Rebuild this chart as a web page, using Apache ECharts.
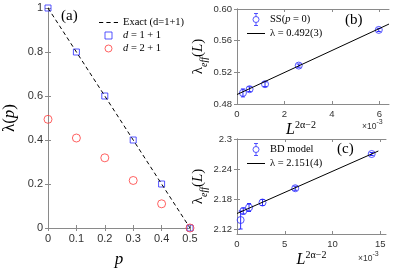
<!DOCTYPE html>
<html><head><meta charset="utf-8">
<script src="https://cdn.jsdelivr.net/npm/echarts@6/dist/echarts.min.js"></script>
<style>html,body{margin:0;padding:0;background:#fff}#c{width:399px;height:273px}</style>
</head><body><div id="c"></div>
<script>
// Panel (a)
const pA = [0, 0.1, 0.2, 0.3, 0.4, 0.5];
const lam1d = [1, 0.8, 0.6, 0.4, 0.2, 0];
const lam2d = [0.494, 0.409, 0.319, 0.216, 0.11, 0];
const exactLine = [[0, 1], [0.5, 0]];
const ticksAx = [0, 0.1, 0.2, 0.3, 0.4, 0.5];
const ticksAy = [0, 0.2, 0.4, 0.6, 0.8, 1];
// Panel (b)
const xB = [0.25, 0.53, 1.18, 2.6, 5.97];
const yB = [0.494, 0.4987, 0.505, 0.5285, 0.5736];
const eB = [0.005, 0.003, 0.003, 0.002, 0.002];
const fitB = [[0, 0.492], [6.4, 0.581]];
const ticksBx = [0, 2, 4, 6];
const ticksBy = [0.48, 0.52, 0.56, 0.60];
// Panel (c)
const xC = [0.38, 0.66, 1.26, 2.67, 6.1, 14.1];
const yC = [2.138, 2.156, 2.163, 2.173, 2.2015, 2.27];
const eC = [0.018, 0.006, 0.008, 0.006, 0.004, 0.003];
const fitC = [[0, 2.151], [14.8, 2.276]];
const ticksCx = [0, 5, 10, 15];
const ticksCy = [2.12, 2.18, 2.24, 2.3];

const BLUE = '#2b2bff', RED = '#ff3b3b', AX = '#8a8a8a', LBL = '#333';
const serif = 'Liberation Serif';
const sans = 'Liberation Sans';

function zip(xs, ys) { return xs.map((x, i) => [x, ys[i]]); }
function zip3(xs, ys, es) { return xs.map((x, i) => [x, ys[i], es[i]]); }

function mkX(grid, min, max, ticks, fs, name, nameGap, nameRich, fmt, namePad) {
  return [{
    type: 'value', gridIndex: grid, min: min, max: max, position: 'bottom',
    axisLine: { show: true, lineStyle: { color: AX, width: 1 } },
    axisTick: { show: true, inside: true, length: 3, customValues: ticks, lineStyle: { color: AX } },
    axisLabel: { customValues: ticks, fontSize: fs, color: LBL, fontFamily: sans, margin: 5, formatter: fmt },
    splitLine: { show: false },
    name: name, nameLocation: 'middle', nameGap: nameGap,
    nameTextStyle: { rich: nameRich, fontFamily: serif, padding: namePad || 0 }
  }, {
    type: 'value', gridIndex: grid, min: min, max: max, position: 'top',
    axisLine: { show: true, lineStyle: { color: AX, width: 1 } },
    axisTick: { show: true, inside: true, length: 3, customValues: ticks, lineStyle: { color: AX } },
    axisLabel: { show: false }, splitLine: { show: false }
  }];
}
function mkY(grid, min, max, ticks, fs, name, nameGap, nameRich, fmt) {
  return [{
    type: 'value', gridIndex: grid, min: min, max: max, position: 'left',
    axisLine: { show: true, lineStyle: { color: AX, width: 1 } },
    axisTick: { show: true, inside: true, length: 3, customValues: ticks, lineStyle: { color: AX } },
    axisLabel: { customValues: ticks, fontSize: fs, color: LBL, fontFamily: sans, margin: 5, formatter: fmt },
    splitLine: { show: false },
    name: name, nameLocation: 'middle', nameGap: nameGap, nameRotate: 90,
    nameTextStyle: { rich: nameRich, fontFamily: serif }
  }, {
    type: 'value', gridIndex: grid, min: min, max: max, position: 'right',
    axisLine: { show: true, lineStyle: { color: AX, width: 1 } },
    axisTick: { show: true, inside: true, length: 3, customValues: ticks, lineStyle: { color: AX } },
    axisLabel: { show: false }, splitLine: { show: false }
  }];
}

const richA = { n: { fontSize: 17, fontFamily: serif, color: '#000' }, i: { fontSize: 17, fontFamily: serif, fontStyle: 'italic', color: '#000' } };
const richL = {
  n: { fontSize: 16, fontFamily: serif, fontStyle: 'italic', color: '#000', lineHeight: 20 },
  s: { fontSize: 10, fontFamily: serif, color: '#000', verticalAlign: 'top', lineHeight: 8 }
};
const richE = {
  n: { fontSize: 15, fontFamily: serif, color: '#000', lineHeight: 23 },
  i: { fontSize: 15, fontFamily: serif, fontStyle: 'italic', color: '#000', lineHeight: 23 },
  s: { fontSize: 10, fontFamily: serif, fontStyle: 'italic', color: '#000', verticalAlign: 'bottom', lineHeight: 8 }
};

function errRender(params, api) {
  const x = api.value(0), y = api.value(1), e = api.value(2);
  const top = api.coord([x, y + e]), bot = api.coord([x, y - e]);
  const cw = 2;
  const st = { stroke: BLUE, lineWidth: 1 };
  return { type: 'group', children: [
    { type: 'line', shape: { x1: top[0], y1: top[1], x2: bot[0], y2: bot[1] }, style: st },
    { type: 'line', shape: { x1: top[0] - cw, y1: top[1], x2: top[0] + cw, y2: top[1] }, style: st },
    { type: 'line', shape: { x1: bot[0] - cw, y1: bot[1], x2: bot[0] + cw, y2: bot[1] }, style: st }
  ]};
}

const errIcon = 'path://M3,0L7,0M5,0L5,3M5,9L5,12M3,12L7,12M5,3A3,3,0,1,1,4.99,3Z';
const dashIcon = 'path://M0,0h4v1h-4zM7,0h4v1h-4zM14,0h4v1h-4z';
const solidIcon = 'path://M0,0h18v1h-18z';
const squareIcon = 'path://M0,0h10v10h-10z';
const circleIcon = 'path://M5,0A5,5,0,1,1,4.99,0Z';

const xAxes = [].concat(
  mkX(0, 0, 0.5, ticksAx, 11, '{i|p}', 23, richA, v => String(v)),
  mkX(1, 0, 6.4, ticksBx, 9.5, '{n|L}{s|2α−2}', 12, richL, v => String(v), [0, 24, 0, 0]),
  mkX(2, 0, 15.6, ticksCx, 9.5, '{n|L}{s|2α−2}', 12, richL, v => String(v))
);
const yAxes = [].concat(
  mkY(0, 0, 1, ticksAy, 11, '{n|λ(}{i|p}{n|)}', 30, richA, v => String(v)),
  mkY(1, 0.48, 0.60, ticksBy, 9.5, '{n|λ}{s|eff}{n|(}{i|L}{n|)}', 23, richE, v => v.toFixed(2)),
  mkY(2, 2.11, 2.30, ticksCy, 9.5, '{n|λ}{s|eff}{n|(}{i|L}{n|)}', 23, richE, v => String(v))
);

const legText = { fontFamily: serif, fontSize: 10.5, color: '#000',
  rich: { i: { fontFamily: serif, fontSize: 10.5, fontStyle: 'italic', color: '#000' } } };
const blueHollow = { color: 'transparent', borderColor: BLUE, borderWidth: 1 };
const supRich = { m: { fontSize: 8.5, fontFamily: sans, fill: '#333', lineHeight: 16 },
                  s: { fontSize: 7, fontFamily: sans, fill: '#333', verticalAlign: 'top', lineHeight: 7 } };

const option = {
  animation: false,
  backgroundColor: '#fff',
  grid: [
    { left: 42, top: 8, width: 148, height: 228 },
    { left: 237, top: 9, width: 152, height: 95 },
    { left: 237, top: 139, width: 149, height: 95 }
  ],
  xAxis: xAxes,
  yAxis: yAxes,
  legend: [
    { orient: 'vertical', left: 94, top: 12, itemWidth: 19, itemHeight: 7, itemGap: 2,
      data: [
        { name: 'Exact (d=1+1)', icon: dashIcon, itemStyle: { color: '#000', borderWidth: 0 } },
        { name: 'd = 1 + 1', icon: squareIcon, itemStyle: blueHollow },
        { name: 'd = 2 + 1', icon: circleIcon, itemStyle: { color: 'transparent', borderColor: RED, borderWidth: 1 } }
      ],
      textStyle: legText,
      formatter: n => n.startsWith('d =') ? '{i|d} ' + n.slice(2) : n },
    { orient: 'vertical', left: 242, top: 8, itemWidth: 18, itemHeight: 12, itemGap: 2,
      data: [
        { name: 'SS(p = 0)', icon: errIcon, itemStyle: blueHollow },
        { name: 'λ = 0.492(3)', icon: solidIcon, itemStyle: { color: '#000', borderWidth: 0 } }
      ],
      textStyle: legText,
      formatter: n => n === 'SS(p = 0)' ? 'SS({i|p} = 0)' : n },
    { orient: 'vertical', left: 242, top: 138, itemWidth: 18, itemHeight: 12, itemGap: 2,
      data: [
        { name: 'BD model', icon: errIcon, itemStyle: blueHollow },
        { name: 'λ = 2.151(4)', icon: solidIcon, itemStyle: { color: '#000', borderWidth: 0 } }
      ],
      textStyle: legText }
  ],
  series: [
    { name: 'Exact (d=1+1)', type: 'line', xAxisIndex: 0, yAxisIndex: 0, data: exactLine,
      showSymbol: false, symbol: 'none', lineStyle: { color: '#000', width: 1, type: [4, 3] }, itemStyle: { color: '#000' } },
    { name: 'd = 1 + 1', type: 'scatter', xAxisIndex: 0, yAxisIndex: 0, data: zip(pA, lam1d),
      symbol: 'rect', symbolSize: 6, itemStyle: blueHollow },
    { name: 'd = 2 + 1', type: 'scatter', xAxisIndex: 0, yAxisIndex: 0, data: zip(pA, lam2d),
      symbol: 'circle', symbolSize: 8, itemStyle: { color: 'transparent', borderColor: RED, borderWidth: 1 } },

    { name: 'λ = 0.492(3)', type: 'line', xAxisIndex: 2, yAxisIndex: 2, data: fitB,
      showSymbol: false, symbol: 'none', lineStyle: { color: '#000', width: 1 }, itemStyle: { color: '#000' } },
    { name: 'SS(p = 0)', type: 'scatter', xAxisIndex: 2, yAxisIndex: 2, data: zip(xB, yB),
      symbol: 'circle', symbolSize: 7, itemStyle: blueHollow },
    { name: 'errB', type: 'custom', xAxisIndex: 2, yAxisIndex: 2, data: zip3(xB, yB, eB), renderItem: errRender, z: 3 },

    { name: 'λ = 2.151(4)', type: 'line', xAxisIndex: 4, yAxisIndex: 4, data: fitC,
      showSymbol: false, symbol: 'none', lineStyle: { color: '#000', width: 1 }, itemStyle: { color: '#000' } },
    { name: 'BD model', type: 'scatter', xAxisIndex: 4, yAxisIndex: 4, data: zip(xC, yC),
      symbol: 'circle', symbolSize: 7, itemStyle: blueHollow },
    { name: 'errC', type: 'custom', xAxisIndex: 4, yAxisIndex: 4, data: zip3(xC, yC, eC), renderItem: errRender, z: 3 }
  ],
  graphic: [
    { type: 'text', left: 61, top: 9, style: { text: '(a)', font: '15px "Liberation Serif"', fill: '#000' } },
    { type: 'text', left: 345, top: 13, style: { text: '(b)', font: '15px "Liberation Serif"', fill: '#000' } },
    { type: 'text', left: 337, top: 142, style: { text: '(c)', font: '15px "Liberation Serif"', fill: '#000' } },
    { type: 'text', left: 362, top: 119, style: { text: '{m|×10}{s|-3}', rich: supRich } },
    { type: 'text', left: 358, top: 251, style: { text: '{m|×10}{s|-3}', rich: supRich } }
  ]
};
echarts.init(document.getElementById('c')).setOption(option);
</script></body></html>
